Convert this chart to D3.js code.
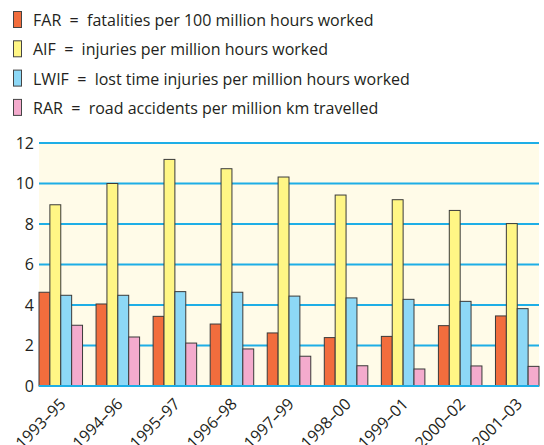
<!DOCTYPE html>
<html>
<head>
<meta charset="utf-8">
<script src="https://cdn.jsdelivr.net/npm/d3@7"></script>
<style>
  body { margin: 0; background: #fff; }
  text { font-family: "Open Sans", sans-serif; fill: #231f20; }
</style>
</head>
<body>
<div id="chart"></div>
<script>
var periods = ["1993–95", "1994–96", "1995–97", "1996–98", "1997–99", "1998–00", "1999–01", "2000–02", "2001–03"];
var far  = [4.63, 4.05, 3.44, 3.06, 2.62, 2.39, 2.45, 2.98, 3.46];
var aif  = [8.95, 10.0, 11.19, 10.73, 10.32, 9.43, 9.2, 8.67, 8.02];
var lwif = [4.48, 4.48, 4.66, 4.63, 4.44, 4.35, 4.28, 4.18, 3.82];
var rar  = [3.0, 2.42, 2.12, 1.83, 1.47, 1.0, 0.84, 0.99, 0.97];
var seriesNames = ["FAR", "AIF", "LWIF", "RAR"];
var legendText = [
  "FAR  =  fatalities per 100 million hours worked",
  "AIF  =  injuries per million hours worked",
  "LWIF  =  lost time injuries per million hours worked",
  "RAR  =  road accidents per million km travelled"
];
var yTicks = [0, 2, 4, 6, 8, 10, 12];

var colors = ["#f26d3d", "#fff685", "#8dd8f6", "#f4abcd"];

var width = 544, height = 445;
var svg = d3.select("#chart").append("svg")
  .attr("width", width)
  .attr("height", height);

var series = [far, aif, lwif, rar];

// legend
var leg = svg.selectAll(".leg")
  .data(legendText)
  .enter().append("g")
  .attr("class", "leg")
  .attr("transform", function(d, i) { return "translate(0," + (i * 29.3) + ")"; });

leg.append("rect")
  .attr("x", 13.5).attr("y", 11.5)
  .attr("width", 8).attr("height", 16)
  .attr("fill", function(d, i) { return colors[i]; })
  .attr("stroke", "#444").attr("stroke-width", 1);

leg.append("text")
  .attr("x", 33).attr("y", 26)
  .attr("font-size", "16px")
  .style("white-space", "pre")
  .attr("xml:space", "preserve")
  .text(function(d) { return d; });

// chart
var x0 = d3.scaleBand()
  .domain(periods)
  .range([39, 539])
  .paddingInner(0.237)
  .paddingOuter(0);

var x1 = d3.scaleBand()
  .domain(seriesNames)
  .range([0, x0.bandwidth()]);

var y = d3.scaleLinear()
  .domain([0, 12])
  .range([386, 143]);

svg.append("rect")
  .attr("x", 39).attr("y", y(12))
  .attr("width", 500).attr("height", y(0) - y(12))
  .attr("fill", "#fffbe8");

svg.selectAll(".grid")
  .data(yTicks)
  .enter().append("line")
  .attr("x1", 39).attr("x2", 539)
  .attr("y1", function(d) { return y(d); })
  .attr("y2", function(d) { return y(d); })
  .attr("stroke", "#1eaee6")
  .attr("stroke-width", 2);

var yAxis = svg.append("g")
  .attr("transform", "translate(39,0)")
  .call(d3.axisLeft(y).tickValues(yTicks).tickSize(0).tickPadding(5));
yAxis.select(".domain").remove();
yAxis.selectAll("text")
  .attr("font-size", "16px")
  .attr("font-family", "Open Sans, sans-serif")
  .attr("fill", "#231f20");

var groups = svg.selectAll(".grp")
  .data(periods)
  .enter().append("g")
  .attr("class", "grp")
  .attr("transform", function(d) { return "translate(" + x0(d) + ",0)"; });

groups.selectAll("rect")
  .data(function(d, i) {
    return seriesNames.map(function(s, j) { return { key: s, value: series[j][i], idx: j }; });
  })
  .enter().append("rect")
  .attr("x", function(d) { return x1(d.key); })
  .attr("y", function(d) { return y(d.value); })
  .attr("width", x1.bandwidth())
  .attr("height", function(d) { return y(0) - y(d.value); })
  .attr("fill", function(d) { return colors[d.idx]; })
  .attr("stroke", "#3a3a3a")
  .attr("stroke-width", 1);

// baseline over bars
svg.append("line")
  .attr("x1", 39).attr("x2", 539)
  .attr("y1", y(0)).attr("y2", y(0))
  .attr("stroke", "#1eaee6").attr("stroke-width", 2);

var xAxis = svg.append("g")
  .attr("transform", "translate(0,386)")
  .call(d3.axisBottom(x0).tickSize(0).tickPadding(0));
xAxis.select(".domain").remove();
xAxis.selectAll("text")
  .attr("font-size", "16px")
  .attr("font-family", "Open Sans, sans-serif")
  .attr("fill", "#231f20")
  .attr("text-anchor", "end")
  .attr("dy", null)
  .attr("y", 0)
  .attr("transform", "translate(6,19) rotate(-45)");
</script>
</body>
</html>
